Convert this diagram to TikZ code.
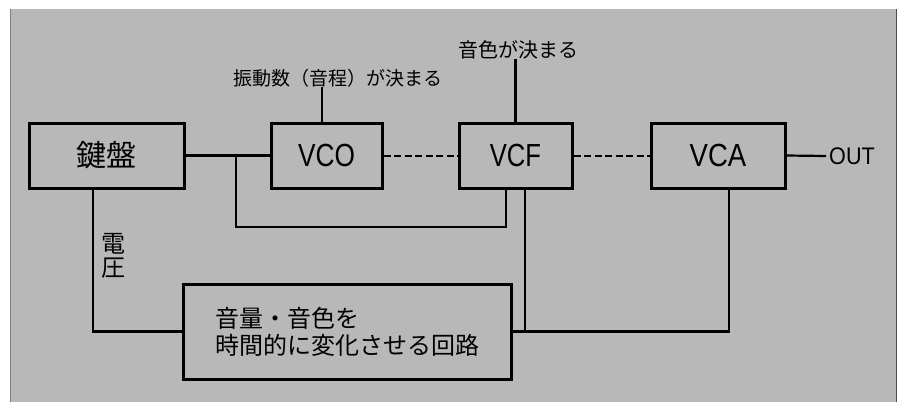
\documentclass[tikz,border=0pt]{standalone}
\usepackage{fontspec}
\usepackage{graphicx}
\newfontfamily\jp{Noto Sans CJK JP}
\newfontfamily\latf{Liberation Sans}
\definecolor{panel}{gray}{0.72}
\begin{document}
\begin{tikzpicture}[x=1pt,y=-1pt,
  box/.style={draw=black, line width=3pt, inner sep=0pt, minimum height=65pt},
  wire/.style={draw=black, line width=2.2pt},
  dwire/.style={draw=black, line width=2pt, dash pattern=on 7pt off 3.5pt},
  lbl/.style={inner sep=0pt, font=\jp\fontsize{20}{22}\selectfont},
  latxt/.style={font=\latf\fontsize{32}{32}\selectfont}
]
\useasboundingbox (0,0) rectangle (902,402);
\fill[panel] (10,9) rectangle (896,402);
\draw[line width=0.8pt, black!70] (896,9) -- (896,402);
\draw[line width=0.5pt, black!50] (10,9) -- (10,402);

% blocks
\node[box, minimum width=155pt, font=\jp\fontsize{30}{30}\selectfont] (kb) at (106.5,155.5) {鍵盤};
\node[box, minimum width=111pt, latxt] (vco) at (326.5,155.5) {\scalebox{0.82}[1]{VCO}};
\node[box, minimum width=113pt, latxt] (vcf) at (515.5,155.5) {\scalebox{0.8}[1]{VCF}};
\node[box, minimum width=134pt, latxt] (vca) at (718,155.5) {\scalebox{0.86}[1]{VCA}};
\node[box, minimum width=328pt, minimum height=95pt, align=left,
      font=\jp\fontsize{24}{27}\selectfont] (env) at (347,331.5)
      {音量・音色を\\時間的に変化させる回路};

% labels
\node[lbl, font=\jp\fontsize{19}{22}\selectfont] (lab1) at (337.5,78) {振動数（音程）が決まる};
\node[lbl] (lab2) at (518,50) {音色が決まる};
\node[inner sep=0pt, align=center, font=\jp\fontsize{24}{24}\selectfont] (volt) at (113,256) {電\\圧};
\node[anchor=west, inner sep=3pt, font=\latf\fontsize{24}{24}\selectfont] (out) at (826,156) {\scalebox{0.9}[1]{OUT}};

% helper coordinates
\coordinate (j1) at (236,155.5);
\coordinate (lowbus) at (0,227);
\coordinate (vcfL) at ([xshift=-9.5pt]vcf.south);
\coordinate (vcfR) at ([xshift=9.5pt]vcf.south);
\coordinate (vcaB) at ([xshift=11pt]vca.south);
\coordinate (kbB) at ([xshift=-13.5pt]kb.south);
\coordinate (vcoT) at ([xshift=-4.5pt]vco.north);

% connectors
\draw[wire] (kb.east) -- (vco.west);
\draw[wire] (j1) |- (vcfL |- lowbus) -- (vcfL);
\draw[wire] (vcfR) |- (env.east);
\draw[wire] (env.east) -| (vcaB);
\draw[wire] (kbB) |- (env.west);
\draw[wire] (vcoT) -- (vcoT |- lab1.south);
\draw[wire] (vcf.north) -- (vcf.north |- lab2.south);
\draw[wire] (vca.east) -- (out.west);
\draw[dwire] (vco.east) -- (vcf.west);
\draw[dwire] (vcf.east) -- (vca.west);
\end{tikzpicture}
\end{document}
